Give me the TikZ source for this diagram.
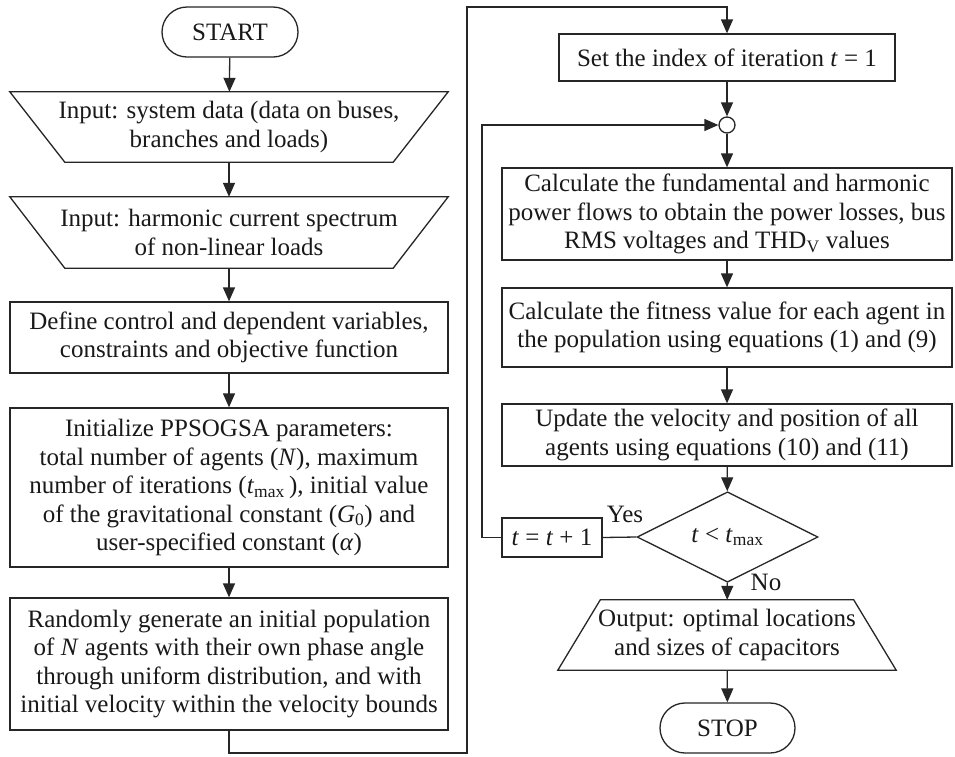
\documentclass[tikz,border=0pt]{standalone}
\usepackage{fontspec}
\setmainfont{Liberation Serif}
\usetikzlibrary{shapes.geometric,arrows.meta}
\newcommand{\fsz}{\fontsize{25}{28.5}\selectfont}
\begin{document}
\begin{tikzpicture}[x=1pt,y=-1pt,
  lw/.style={line width=1.3pt, draw=black!85},
  txt/.style={font=\fsz, align=center, inner sep=0pt, text=black!90},
  proc/.style={txt, lw, draw, minimum height=#1},
  io/.style={txt, minimum height=#1},
  term/.style={txt, lw, draw, rounded corners=25pt, minimum width=136pt, minimum height=50pt},
  arr/.style={lw, -{Triangle[length=14pt,width=12pt]}},
  lnk/.style={lw}
]
\fill[white] (0,0) rectangle (955,756);
\useasboundingbox (0,0) rectangle (955,756);

% left column
\node[term] (start) at (230,32) {START};
\node[io=70pt, minimum width=438pt] (in1) at (229,127) {Input: system data (data on buses,\\branches and loads)};
\draw[lw] (in1.north west) -- (in1.north east) -- ([xshift=-55pt]in1.south east) -- ([xshift=55pt]in1.south west) -- cycle;
\node[io=71pt, minimum width=438pt] (in2) at (229,232.5) {Input: harmonic current spectrum\\of non-linear loads};
\draw[lw] (in2.north west) -- (in2.north east) -- ([xshift=-55pt]in2.south east) -- ([xshift=55pt]in2.south west) -- cycle;
\node[proc=71pt, minimum width=438pt] (def) at (229,337.5) {Define control and dependent variables,\\constraints and objective function};
\node[proc=159pt, minimum width=438pt] (init) at (229,487.5) {Initialize PPSOGSA parameters:\\total number of agents (\textit{N}), maximum\\number of iterations (\textit{t}\textsubscript{max}\,), initial value\\of the gravitational constant (\textit{G}\textsubscript{0}) and\\user-specified constant (\textit{α})};
\node[proc=132pt, minimum width=438pt] (rand) at (229,664) {Randomly generate an initial population\\of \textit{N} agents with their own phase angle\\through uniform distribution, and with\\initial velocity within the velocity bounds};

% right column
\node[proc=47pt, minimum width=336pt] (set) at (727,57.5) {Set the index of iteration \textit{t} = 1};
\node[circle, lw, draw, fill=white, minimum size=16pt, inner sep=0pt] (jn) at (727,125) {};
\node[proc=92pt, minimum width=450pt] (calc) at (727,214) {Calculate the fundamental and harmonic\\power flows to obtain the power losses, bus\\RMS voltages and THD\textsubscript{V} values};
\node[proc=79pt, minimum width=450pt] (fit) at (727,327.5) {Calculate the fitness value for each agent in\\the population using equations (1) and (9)};
\node[proc=62pt, minimum width=450pt] (upd) at (727,435) {Update the velocity and position of all\\agents using equations (10) and (11)};
\node[txt, lw, draw, diamond, minimum width=181pt, minimum height=60pt] (dec) at (727.5,537) {\textit{t} < \textit{t}\textsubscript{max}};
\node[proc=39pt, minimum width=100pt] (inc) at (552,537.5) {\textit{t} = \textit{t} + 1};
\node[io=70pt, minimum width=338pt] (out) at (727,635) {Output: optimal locations\\and sizes of capacitors};
\draw[lw] ([xshift=42.5pt]out.north west) -- ([xshift=-42.5pt]out.north east) -- (out.south east) -- (out.south west) -- cycle;
\node[term, minimum width=135pt] (stop) at (727.5,728) {STOP};

\node[txt] (yes) at (625,514) {Yes};
\node[txt] (no) at (766,582) {No};

% connectors
\draw[arr] (start) -- (in1);
\draw[arr] (in1) -- (in2);
\draw[arr] (in2) -- (def);
\draw[arr] (def) -- (init);
\draw[arr] (init) -- (rand);

\coordinate (c1) at (229,753);
\coordinate (c2) at (467,753);
\coordinate (c3) at (467,7);
\coordinate (c4) at (727,7);
\draw[arr] (rand.south) -- (c1) -- (c2) -- (c3) -- (c4) -- (set.north);

\draw[arr] (set) -- (jn);
\draw[arr] (jn) -- (calc);
\draw[arr] (calc) -- (fit);
\draw[arr] (fit) -- (upd);
\draw[arr] (upd) -- (dec);
\draw[arr] (dec) -- (out);
\draw[arr] (out) -- (stop);

\draw[lnk] (dec.west) -- (inc.east);
\coordinate (c5) at (482,537.5);
\coordinate (c6) at (482,125);
\draw[arr] (inc.west) -- (c5) -- (c6) -- (jn.west);
\end{tikzpicture}
\end{document}
